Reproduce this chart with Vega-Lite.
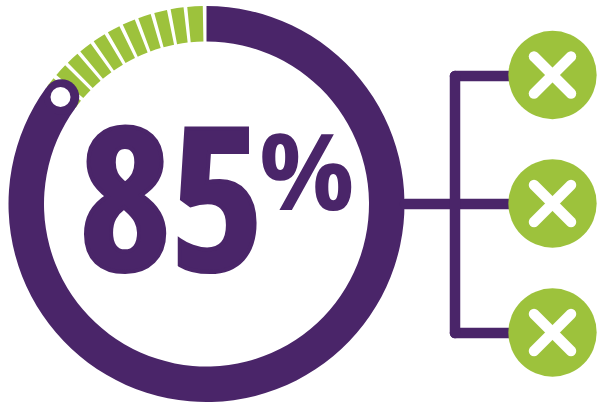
{
"$schema":"https://vega.github.io/schema/vega-lite/v6.json",
"width":602,"height":409,"padding":0,"autosize":{"type":"fit","contains":"padding"},
"background":"white",
"view":{"stroke":null},
"encoding":{
 "x":{"field":"x","type":"quantitative","scale":{"domain":[0,602],"nice":false,"zero":false},"axis":null},
 "y":{"field":"y","type":"quantitative","scale":{"domain":[409,0],"nice":false,"zero":false},"axis":null}
},
"layer":[
 {"data":{"values":[
  {"x":206.5,"y":204,"start":85.1,"end":85.95},
  {"x":206.5,"y":204,"start":86.3,"end":87.35},
  {"x":206.5,"y":204,"start":87.65,"end":88.7},
  {"x":206.5,"y":204,"start":89.0,"end":90.05},
  {"x":206.5,"y":204,"start":90.35,"end":91.4},
  {"x":206.5,"y":204,"start":91.7,"end":92.75},
  {"x":206.5,"y":204,"start":93.05,"end":94.1},
  {"x":206.5,"y":204,"start":94.4,"end":95.45},
  {"x":206.5,"y":204,"start":95.75,"end":96.8},
  {"x":206.5,"y":204,"start":97.1,"end":98.15},
  {"x":206.5,"y":204,"start":98.45,"end":99.7}
 ]},
 "mark":{"type":"arc","innerRadius":162.5,"outerRadius":198,"fill":"#9DC23C"},
 "encoding":{"theta":{"field":"start","type":"quantitative","scale":{"domain":[0,100],"range":[0,6.283185]}},"theta2":{"field":"end"}}},
 {"data":{"values":[{"x":206.5,"y":204,"start":0,"end":85}]},
 "mark":{"type":"arc","innerRadius":162.5,"outerRadius":198,"fill":"#4A2569"},
 "encoding":{"theta":{"field":"start","type":"quantitative","scale":{"domain":[0,100],"range":[0,6.283185]}},"theta2":{"field":"end"}}},
 {"data":{"values":[{"x":61.5,"y":97}]},"mark":{"type":"circle","size":1260,"opacity":1,"fill":"#4A2569"}},
 {"data":{"values":[{"x":60.5,"y":97}]},"mark":{"type":"circle","size":400,"opacity":1,"fill":"#FFFFFF"}},
 {"data":{"values":[
  {"x":405,"y":204,"x2":515,"y2":204},
  {"x":455,"y":76,"x2":515,"y2":76},
  {"x":455,"y":333,"x2":515,"y2":333},
  {"x":455,"y":76,"x2":455,"y2":333}
 ]},
 "mark":{"type":"rule","stroke":"#4A2569","strokeWidth":10.5,"strokeCap":"round"},
 "encoding":{"x2":{"field":"x2"},"y2":{"field":"y2"}}},
 {"data":{"values":[{"x":552.5,"y":75},{"x":552.5,"y":203.5},{"x":552.5,"y":332.5}]},
 "mark":{"type":"circle","size":7800,"opacity":1,"fill":"#9DC23C"}},
 {"data":{"values":[
  {"x":534,"y":56.5,"x2":571,"y2":93.5},{"x":534,"y":93.5,"x2":571,"y2":56.5},
  {"x":534,"y":185,"x2":571,"y2":222},{"x":534,"y":222,"x2":571,"y2":185},
  {"x":534,"y":314,"x2":571,"y2":351},{"x":534,"y":351,"x2":571,"y2":314}
 ]},
 "mark":{"type":"rule","stroke":"#FFFFFF","strokeWidth":10.5,"strokeCap":"round"},
 "encoding":{"x2":{"field":"x2"},"y2":{"field":"y2"}}},
 {"data":{"values":[{"x":79,"y":270,"label":"85"}]},
 "mark":{"type":"text","font":"Open Sans Condensed","fontWeight":"bold","fontSize":199,"align":"left","baseline":"alphabetic","fill":"#4A2569","stroke":"#4A2569","strokeWidth":4},
 "encoding":{"text":{"field":"label"}}},
 {"data":{"values":[{"x":259,"y":210,"label":"%"}]},
 "mark":{"type":"text","font":"Open Sans","fontWeight":"bold","fontSize":106,"align":"left","baseline":"alphabetic","fill":"#4A2569"},
 "encoding":{"text":{"field":"label"}}}
]
}
